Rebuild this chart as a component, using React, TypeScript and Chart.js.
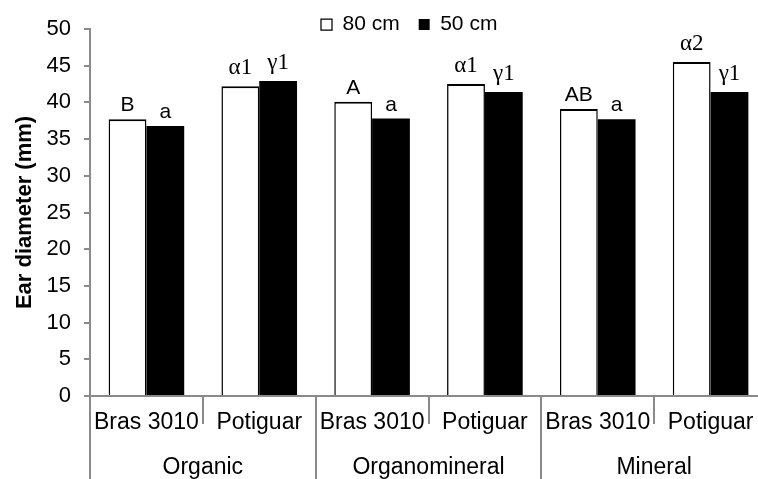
import React, { useEffect, useRef } from 'react';
import { Chart, registerables } from 'chart.js';

Chart.register(...registerables);

const categories = ['Bras 3010', 'Potiguar', 'Bras 3010', 'Potiguar', 'Bras 3010', 'Potiguar'];
const groups = ['Organic', 'Organomineral', 'Mineral'];
const seriesNames = ['80 cm', '50 cm'];
const series80 = [37.7, 42.2, 40.1, 42.5, 39.1, 45.5];
const series50 = [36.8, 42.9, 37.8, 41.4, 37.7, 41.4];
const marks80 = ['B', 'α1', 'A', 'α1', 'AB', 'α2'];
const marks50 = ['a', 'γ1', 'a', 'γ1', 'a', 'γ1'];
const yMin = 0;
const yMax = 50;
const yStep = 5;
const yTitle = 'Ear diameter (mm)';

const SANS = '"Liberation Sans", Arial, sans-serif';
const SERIF = '"Liberation Serif", "Times New Roman", serif';
const GRAY = '#8a8a8a';

const markPlugin = {
  id: 'marks',
  afterDatasetsDraw(chart: any) {
    const ctx = chart.ctx;
    const sets = [marks80, marks50];
    chart.data.datasets.forEach((_ds: any, di: number) => {
      const meta = chart.getDatasetMeta(di);
      meta.data.forEach((bar: any, i: number) => {
        const t = sets[di][i];
        const greek = /[αγ]/.test(t);
        ctx.save();
        ctx.font = greek ? `23px ${SERIF}` : `21px ${SANS}`;
        ctx.fillStyle = '#000';
        ctx.textAlign = 'center';
        ctx.textBaseline = 'alphabetic';
        ctx.fillText(t, bar.x, bar.y - (greek ? 12 : 8));
        ctx.restore();
      });
    });
  },
};

const legendPlace = {
  id: 'legendPlace',
  beforeDraw(chart: any) {
    const l = chart.legend;
    if (!l) return;
    l.left = 302;
    l.right = 590;
    l.top = -5;
    l.bottom = 55;
  },
};

export default function App() {
  const ref = useRef<HTMLCanvasElement>(null);
  useEffect(() => {
    const chart = new Chart(ref.current as HTMLCanvasElement, {
      type: 'bar',
      data: {
        labels: categories,
        datasets: [
          {
            label: seriesNames[0],
            data: series80,
            backgroundColor: '#ffffff',
            borderColor: '#000000',
            borderWidth: { top: 2, left: 1.5, right: 1.5, bottom: 0 },
            categoryPercentage: 0.67,
            barPercentage: 1,
            xAxisID: 'x',
            yAxisID: 'y',
          },
          {
            label: seriesNames[1],
            data: series50,
            backgroundColor: '#000000',
            borderColor: '#000000',
            borderWidth: 0,
            categoryPercentage: 0.67,
            barPercentage: 1,
            xAxisID: 'x',
            yAxisID: 'y',
          },
        ],
      },
      options: {
        animation: false,
        responsive: false,
        devicePixelRatio: 1,
        layout: { padding: { left: 0, right: 3, top: 0, bottom: 0 } },
        plugins: {
          tooltip: { enabled: false },
          legend: {
            display: true,
            position: 'top',
            align: 'start',
            maxHeight: 29,
            labels: {
              boxWidth: 11,
              boxHeight: 11,
              padding: 19,
              color: '#000',
              font: { family: SANS, size: 21 },
            },
          },
        },
        scales: {
          y: {
            type: 'linear',
            min: yMin,
            max: yMax,
            position: 'left',
            afterFit: (s: any) => {
              s.width = 90;
            },
            ticks: {
              stepSize: yStep,
              color: '#000',
              padding: 13,
              font: { family: SANS, size: 22 },
            },
            grid: {
              display: true,
              drawOnChartArea: false,
              drawTicks: true,
              tickLength: 6,
              color: GRAY,
              lineWidth: 2,
            },
            border: { display: true, color: GRAY, width: 2 },
            title: {
              display: true,
              text: yTitle,
              color: '#000',
              padding: { top: 12, bottom: 0 },
              font: { family: SANS, size: 22, weight: 'bold' },
            },
          },
          x: {
            type: 'category',
            position: 'bottom',
            weight: 0,
            offset: true,
            afterFit: (s: any) => {
              s.height = 28;
            },
            ticks: {
              color: '#000',
              mirror: true,
              padding: -40,
              autoSkip: false,
              maxRotation: 0,
              font: { family: SANS, size: 23 },
            },
            grid: {
              display: true,
              offset: true,
              drawOnChartArea: false,
              drawTicks: true,
              tickLength: 28,
              color: GRAY,
              lineWidth: 2,
            },
            border: { display: true, color: GRAY, width: 2 },
          },
          x2: {
            type: 'category',
            labels: groups,
            position: 'bottom',
            weight: 1,
            offset: true,
            afterFit: (s: any) => {
              s.height = 55;
            },
            ticks: {
              color: '#000',
              mirror: true,
              padding: -57,
              autoSkip: false,
              maxRotation: 0,
              font: { family: SANS, size: 23 },
            },
            grid: {
              display: true,
              offset: true,
              drawOnChartArea: false,
              drawTicks: true,
              tickLength: 60,
              color: GRAY,
              lineWidth: 2,
            },
            border: { display: false },
          },
        },
      } as any,
      plugins: [markPlugin, legendPlace],
    });
    return () => chart.destroy();
  }, []);

  return (
    <div
      style={{
        position: 'fixed',
        left: 0,
        top: 0,
        width: 758,
        height: 479,
        overflow: 'hidden',
        background: '#ffffff',
      }}
    >
      <canvas ref={ref} width={770} height={479} style={{ display: 'block', width: 770, height: 479 }} />
    </div>
  );
}
